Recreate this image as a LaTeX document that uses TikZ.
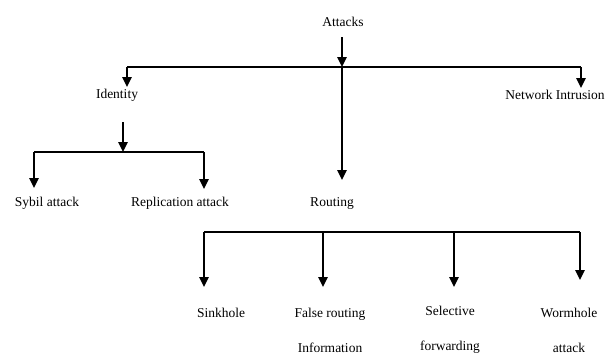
\documentclass[tikz,border=0pt]{standalone}
\usepackage{fontspec}
\setmainfont{Liberation Serif}
\usetikzlibrary{arrows.meta}
\tikzset{lbl/.style={font=\fontsize{13.5}{35}\selectfont,inner sep=0pt,align=center}}
\tikzset{bus/.style={line width=1.2pt}}
\tikzset{arr/.style={line width=2.4pt,-{Triangle[width=9pt,length=10pt]}}}
\newcommand{\ver}[2]{\coordinate (#1) at (#2);}

\begin{document}
\begin{tikzpicture}[x=1pt,y=-1pt]
    \useasboundingbox (0,0) rectangle (611,354);
      \node[lbl] (att) at (343,22) {Attacks};
      \node[lbl] (ident) at (117,95) {Identity};
      \node[lbl] (net) at (555,95) {Network Intrusion};
      \node[lbl] (sybil) at (47,203) {Sybil attack};
      \node[lbl] (repl) at (180,203) {Replication attack};
      \node[lbl] (rout) at (332,203) {Routing};
      \node[lbl] (sink) at (221,313) {Sinkhole};
      \node[lbl] (false) at (330,330) {False routing\\Information};
      \node[lbl] (sel) at (450,330) {Selective\\forwarding};
      \node[lbl] (worm) at (569,330) {Wormhole\\attack};

      \ver{a0}{342,37};
      \ver{a1}{127,67};
      \ver{a2}{342,67};
      \ver{a3}{581,67};
      \ver{a4}{342,180};
      \ver{i0}{123,122};
      \ver{i1}{34,152};
      \ver{i2}{123,152};
      \ver{i3}{204,152};
      \ver{r1}{204,232};
      \ver{r2}{323,232};
      \ver{r3}{454,232};
      \ver{r4}{580,232};

      \draw[bus] (a1)--(a3);
      \draw[bus] (i1)--(i3);
      \draw[bus] (r1)--(r4);
      \draw[arr] (a0)--(a2);
      \draw[arr] (a2)--(a4);
      \draw[arr] (a1)--(a1|-0,87);
      \draw[arr] (a3)--(a3|-0,88);
      \draw[arr] (i0)--(i2);
      \draw[arr] (i1)--(i1|-0,188);
      \draw[arr] (i3)--(i3|-0,189);
      \draw[arr] (r1)--(r1|-0,287);
      \draw[arr] (r2)--(r2|-0,287);
      \draw[arr] (r3)--(r3|-0,287);
      \draw[arr] (r4)--(r4|-0,280);
  \end{tikzpicture}
\end{document}
